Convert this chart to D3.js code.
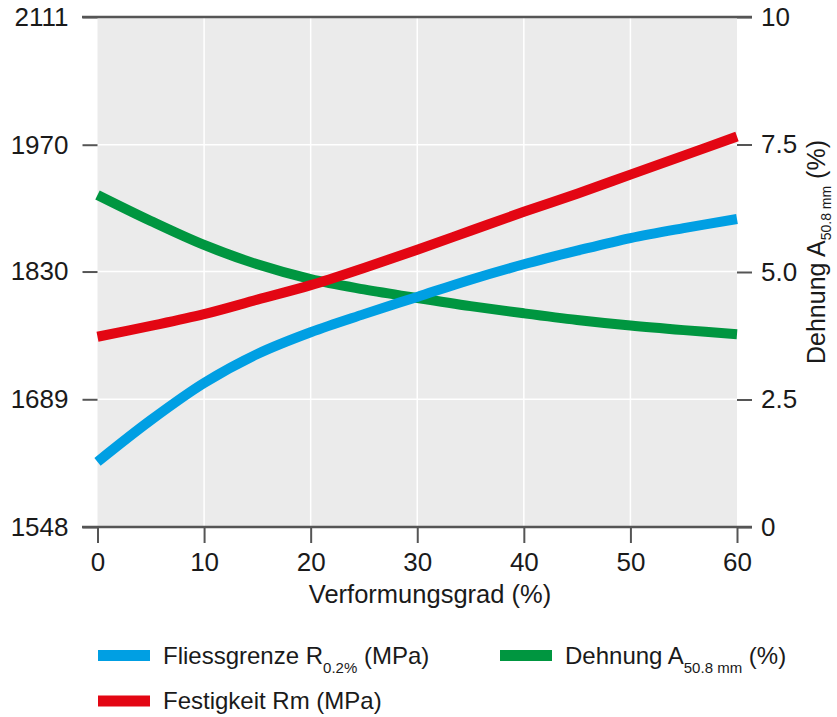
<!DOCTYPE html>
<html>
<head>
<meta charset="utf-8">
<script src="https://cdn.jsdelivr.net/npm/d3@7"></script>
<style>
  html, body { margin: 0; padding: 0; background: #fff; }
  text { font-family: "Liberation Sans", Arial, Helvetica, sans-serif; fill: #1a1a1a; }
</style>
</head>
<body>
<svg id="chart" width="837" height="717"></svg>
<script>
// ---- data ----
const deformation = [0, 5, 10, 15, 20, 25, 30, 35, 40, 45, 50, 55, 60];
const yieldStrength = [1620, 1666, 1707, 1739, 1763, 1783, 1802, 1821, 1838, 1853, 1867, 1878, 1888];
const tensileStrength = [1758, 1770, 1783, 1799, 1815, 1834, 1854, 1875, 1896, 1916, 1937, 1958, 1979];
const elongation = [6.51, 6.0, 5.53, 5.15, 4.86, 4.66, 4.49, 4.33, 4.19, 4.06, 3.95, 3.86, 3.78];
const xTicks = [0, 10, 20, 30, 40, 50, 60];
const leftTicks = [1548, 1689, 1830, 1970, 2111];
const rightTicks = [0, 2.5, 5, 7.5, 10];
const rightTickLabels = ["0", "2.5", "5.0", "7.5", "10"];

// ---- layout ----
const L = 97.5, R = 737, T = 17, B = 527;
const svg = d3.select("#chart");
const x = d3.scaleLinear().domain([0, 60]).range([L, R]);
const yL = d3.scaleLinear().domain([1548, 2111]).range([B, T]);
const yR = d3.scaleLinear().domain([0, 10]).range([B, T]);

svg.append("rect").attr("x", L).attr("y", T).attr("width", R - L).attr("height", B - T).attr("fill", "#ebebeb");

// grid
svg.append("g").selectAll("line").data(xTicks.slice(1, -1)).join("line")
  .attr("x1", d => x(d)).attr("x2", d => x(d)).attr("y1", T).attr("y2", B)
  .attr("stroke", "#fff").attr("stroke-width", 1.5);
svg.append("g").selectAll("line").data(leftTicks.slice(1, -1)).join("line")
  .attr("x1", L).attr("x2", R).attr("y1", d => yL(d)).attr("y2", d => yL(d))
  .attr("stroke", "#fff").attr("stroke-width", 1.5);

// axes
const axisColor = "#555";
function styleAxis(g, size) {
  g.select(".domain").remove();
  g.selectAll(".tick line").attr("stroke", axisColor).attr("stroke-width", 2);
  g.selectAll(".tick text").style("font-size", size + "px").attr("fill", "#1a1a1a");
}
svg.append("g").attr("transform", `translate(${L},0)`)
  .call(d3.axisLeft(yL).tickValues(leftTicks).tickFormat(d3.format("d")).tickSizeInner(15).tickSizeOuter(0).tickPadding(14))
  .call(g => styleAxis(g, 26));
svg.append("g").attr("transform", `translate(${R},0)`)
  .call(d3.axisRight(yR).tickValues(rightTicks).tickFormat((d, i) => rightTickLabels[i]).tickSizeInner(15).tickSizeOuter(0).tickPadding(9))
  .call(g => styleAxis(g, 26));
svg.append("g").attr("transform", `translate(0,${B})`)
  .call(d3.axisBottom(x).tickValues(xTicks).tickSizeInner(16).tickSizeOuter(0).tickPadding(10))
  .call(g => styleAxis(g, 26));

// top & bottom frame lines
[T, B].forEach(yy => svg.append("line").attr("x1", 82).attr("x2", 752).attr("y1", yy).attr("y2", yy)
  .attr("stroke", axisColor).attr("stroke-width", 2.5));

// lines
const series = [
  { vals: elongation, scale: yR, color: "#009640" },
  { vals: tensileStrength, scale: yL, color: "#e30613" },
  { vals: yieldStrength, scale: yL, color: "#009fe3" }
];
series.forEach(s => {
  const line = d3.line().x((d, i) => x(deformation[i])).y(d => s.scale(d)).curve(d3.curveCatmullRom.alpha(0.5));
  svg.append("path").attr("d", line(s.vals)).attr("fill", "none")
    .attr("stroke", s.color).attr("stroke-width", 10).attr("stroke-linecap", "butt");
});

// axis titles
svg.append("text").attr("x", 430).attr("y", 603).attr("text-anchor", "middle")
  .style("font-size", "25.5px").text("Verformungsgrad (%)");

const rt = svg.append("text").attr("transform", "translate(825,252) rotate(-90)").attr("text-anchor", "middle")
  .style("font-size", "25px");
rt.append("tspan").text("Dehnung A");
rt.append("tspan").attr("dy", 6).style("font-size", "14px").text("50.8 mm");
rt.append("tspan").attr("dy", -6).text(" (%)");

// legend
const legend = [
  { x: 98, y: 655.5, color: "#009fe3", main: "Fliessgrenze R", sub: "0.2%", tail: " (MPa)" },
  { x: 98, y: 701, color: "#e30613", main: "Festigkeit Rm (MPa)", sub: null, tail: null },
  { x: 500, y: 655.5, color: "#009640", main: "Dehnung A", sub: "50.8 mm", tail: " (%)" }
];
legend.forEach(d => {
  svg.append("rect").attr("x", d.x).attr("y", d.y - 5.5).attr("width", 52).attr("height", 11).attr("fill", d.color);
  const t = svg.append("text").attr("x", d.x + 65).attr("y", d.y + 8).style("font-size", "24px");
  t.append("tspan").text(d.main);
  if (d.sub) {
    t.append("tspan").attr("dy", 9).style("font-size", "15px").text(d.sub);
    t.append("tspan").attr("dy", -9).text(d.tail);
  }
});
</script>
</body>
</html>
